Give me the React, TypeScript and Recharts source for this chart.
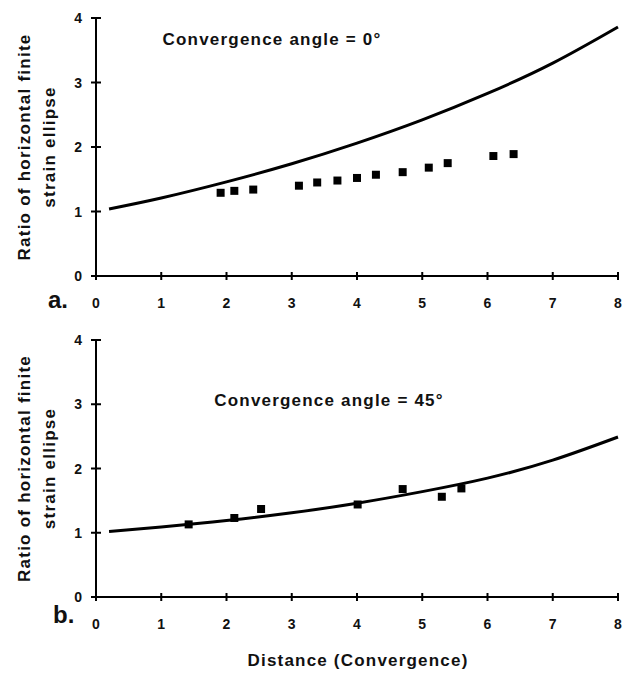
import React from "react";
import { ComposedChart, Line, Scatter, XAxis, YAxis } from "recharts";

// ---- data ----
const X_TICKS = [0, 1, 2, 3, 4, 5, 6, 7, 8];
const Y_TICKS = [0, 1, 2, 3, 4];

const topCurveX = [0.2, 1, 2, 3, 4, 5, 6, 7, 8];
const topCurveY = [1.04, 1.21, 1.46, 1.74, 2.06, 2.42, 2.83, 3.3, 3.86];
const topPointsX = [1.91, 2.12, 2.41, 3.11, 3.39, 3.7, 4.0, 4.29, 4.7, 5.1, 5.39, 6.09, 6.4];
const topPointsY = [1.29, 1.32, 1.34, 1.4, 1.45, 1.48, 1.52, 1.57, 1.61, 1.68, 1.75, 1.86, 1.89];

const bottomCurveX = [0.2, 1, 2, 3, 4, 5, 6, 7, 8];
const bottomCurveY = [1.02, 1.09, 1.19, 1.31, 1.46, 1.64, 1.85, 2.13, 2.49];
const bottomPointsX = [1.42, 2.12, 2.53, 4.01, 4.7, 5.3, 5.6];
const bottomPointsY = [1.13, 1.23, 1.37, 1.44, 1.68, 1.56, 1.69];

const Y_TITLE_1 = "Ratio of horizontal finite";
const Y_TITLE_2 = "strain ellipse";
const X_TITLE = "Distance (Convergence)";
const TOP_NOTE = "Convergence angle = 0°";
const BOTTOM_NOTE = "Convergence angle = 45°";

const zip = (xs: number[], ys: number[]) => xs.map((x, i) => ({ x, y: ys[i] }));

const FONT = "'Liberation Sans', Arial, Helvetica, sans-serif";

const XTick = (p: any) => (
  <g>
    <line x1={p.x} x2={p.x} y1={p.y - 4} y2={p.y + 4} stroke="#000" strokeWidth={2} />
    <text x={p.x} y={p.y + 32} textAnchor="middle" fontFamily={FONT} fontWeight="bold" fontSize={14} fill="#111">
      {p.payload.value}
    </text>
  </g>
);

const YTick = (p: any) => (
  <g>
    <line x1={p.x - 5} x2={p.x + 5} y1={p.y} y2={p.y} stroke="#000" strokeWidth={2} />
    <text x={p.x - 14} y={p.y + 5} textAnchor="end" fontFamily={FONT} fontWeight="bold" fontSize={14} fill="#111">
      {p.payload.value}
    </text>
  </g>
);

const YTitle = (props: any) => {
  const vb = props.viewBox || { x: 0, y: 0, width: 0, height: 0 };
  const cy = vb.y + vb.height / 2;
  const style = { fontFamily: FONT, fontWeight: "bold" as const, fontSize: 17, letterSpacing: 1.25, fill: "#111" };
  return (
    <g>
      <text transform={`translate(24, ${cy}) rotate(-90)`} textAnchor="middle" dominantBaseline="central" style={style}>
        {Y_TITLE_1}
      </text>
      <text transform={`translate(49, ${cy}) rotate(-90)`} textAnchor="middle" dominantBaseline="central" style={style}>
        {Y_TITLE_2}
      </text>
    </g>
  );
};

const noteStyle: React.CSSProperties = {
  fontFamily: FONT,
  fontWeight: "bold",
  fontSize: 17,
  letterSpacing: 1.2,
  fill: "#111",
};

function Panel(props: {
  curve: { x: number; y: number }[];
  points: { x: number; y: number }[];
  height: number;
  margin: { top: number; right: number; bottom: number; left: number };
}) {
  return (
    <ComposedChart width={623} height={props.height} margin={props.margin}>
      <XAxis
        type="number"
        dataKey="x"
        domain={[0, 8]}
        ticks={X_TICKS}
        interval={0}
        height={30}
        tickSize={0}
        tickMargin={0}
        tickLine={false}
        axisLine={{ stroke: "#000", strokeWidth: 2 }}
        tick={XTick}
      />
      <YAxis
        type="number"
        dataKey="y"
        domain={[0, 4]}
        ticks={Y_TICKS}
        interval={0}
        width={40}
        tickSize={0}
        tickMargin={0}
        tickLine={false}
        axisLine={{ stroke: "#000", strokeWidth: 2 }}
        tick={YTick}
        label={{ content: YTitle }}
      />
      <Line
        data={props.curve}
        dataKey="y"
        type="natural"
        stroke="#000"
        strokeWidth={3}
        dot={false}
        activeDot={false}
        isAnimationActive={false}
      />
      <Scatter data={props.points} dataKey="y" fill="#000" shape="square" size={56} isAnimationActive={false} />
    </ComposedChart>
  );
}

export default function App() {
  return (
    <div style={{ position: "absolute", left: 0, top: 0, width: 623, height: 675, background: "#fff" }}>
      <div style={{ position: "absolute", left: 0, top: 0 }}>
        <Panel
          curve={zip(topCurveX, topCurveY)}
          points={zip(topPointsX, topPointsY)}
          height={330}
          margin={{ top: 18, right: 5, bottom: 24, left: 56 }}
        />
      </div>
      <div style={{ position: "absolute", left: 0, top: 330 }}>
        <Panel
          curve={zip(bottomCurveX, bottomCurveY)}
          points={zip(bottomPointsX, bottomPointsY)}
          height={345}
          margin={{ top: 10, right: 5, bottom: 48, left: 56 }}
        />
      </div>
      <svg width={623} height={675} style={{ position: "absolute", left: 0, top: 0, pointerEvents: "none" }}>
        <text x={272} y={45} textAnchor="middle" style={noteStyle}>
          {TOP_NOTE}
        </text>
        <text x={329} y={406} textAnchor="middle" style={noteStyle}>
          {BOTTOM_NOTE}
        </text>
        <text x={48} y={308} fontFamily={FONT} fontWeight="bold" fontSize={24} fill="#111">
          a.
        </text>
        <text x={53} y={623} fontFamily={FONT} fontWeight="bold" fontSize={24} fill="#111">
          b.
        </text>
        <text x={358} y={666} textAnchor="middle" style={noteStyle}>
          {X_TITLE}
        </text>
      </svg>
    </div>
  );
}
